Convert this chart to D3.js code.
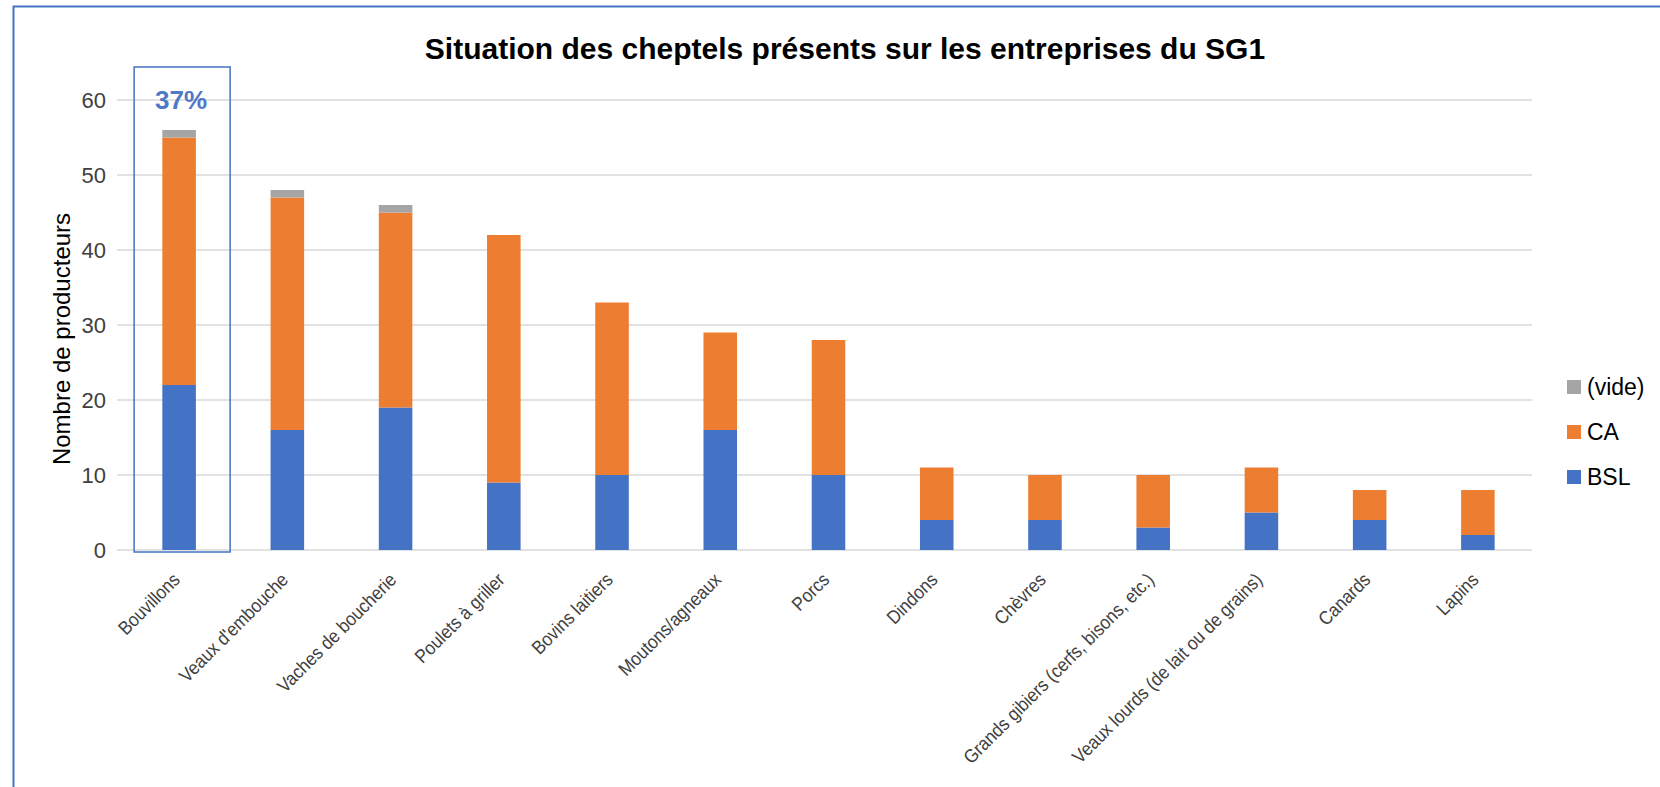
<!DOCTYPE html>
<html>
<head>
<meta charset="utf-8">
<script src="https://cdn.jsdelivr.net/npm/d3@7"></script>
<style>
  body { margin: 0; background: #fff; }
  svg text { font-family: "Liberation Sans", Arial, sans-serif; }
</style>
</head>
<body>
<div id="chart"></div>
<script>
// stacked bars: cheptels par entreprise (SG1)

const categories = ['Bouvillons', "Veaux d'embouche", 'Vaches de boucherie', 'Poulets à griller',
    'Bovins laitiers', 'Moutons/agneaux', 'Porcs', 'Dindons', 'Chèvres',
    'Grands gibiers (cerfs, bisons, etc.)', 'Veaux lourds (de lait ou de grains)', 'Canards', 'Lapins'];
const bsl  = [22, 16, 19, 9, 10, 16, 10, 4, 4, 3, 5, 4, 2];
const ca   = [33, 31, 26, 33, 23, 13, 18, 7, 6, 7, 6, 4, 6];
const vide = [1, 1, 1, 0, 0, 0, 0, 0, 0, 0, 0, 0, 0];
const seriesNames = ['BSL', 'CA', '(vide)'];
const yTicks = [0, 10, 20, 30, 40, 50, 60];
const highlightLabel = '37%';

const colors = {'BSL': '#4472C4', 'CA': '#ED7D31', '(vide)': '#A5A5A5'};

const width = 1660, height = 787;
const margin = {top: 100, left: 125, right: 128, bottom: 237};
const plotW = width - margin.left - margin.right;
const plotH = height - margin.top - margin.bottom;

const svg = d3.select('#chart').append('svg')
    .attr('width', width)
    .attr('height', height);

// outer frame (only top and left edges show)
svg.append('path')
    .attr('d', 'M13.5,800 L13.5,6.5 L1670,6.5')
    .attr('fill', 'none')
    .attr('stroke', '#4472C4')
    .attr('stroke-width', 2);

const g = svg.append('g')
    .attr('transform', `translate(${margin.left}, ${margin.top})`);

const rows = categories.map((c, i) => ({cat: c, 'BSL': bsl[i], 'CA': ca[i], '(vide)': vide[i]}));
const stacked = d3.stack().keys(seriesNames)(rows);

const x = d3.scaleBand()
    .domain(categories)
    .range([0, plotW])
    .paddingInner(0.69)
    .paddingOuter(0.345);

const y = d3.scaleLinear()
    .domain([0, 60])
    .range([plotH, 0]);

// gridlines
g.append('g')
    .selectAll('line')
    .data(yTicks)
    .enter()
    .append('line')
    .attr('x1', -8)
    .attr('x2', plotW)
    .attr('y1', d => y(d))
    .attr('y2', d => y(d))
    .attr('stroke', '#D9D9D9')
    .attr('stroke-width', 1.5);

// y axis labels
const yAxis = g.append('g')
    .call(d3.axisLeft(y).tickValues(yTicks).tickSize(0).tickPadding(19));
yAxis.select('.domain').remove();
yAxis.selectAll('text')
    .style('font-size', '22px')
    .attr('fill', '#404040');

// bars
g.selectAll('.layer')
    .data(stacked)
    .enter()
    .append('g')
    .attr('class', 'layer')
    .attr('fill', d => colors[d.key])
    .selectAll('rect')
    .data(d => d.map(v => ({v: v, cat: v.data.cat})))
    .enter()
    .append('rect')
    .attr('x', d => x(d.cat))
    .attr('width', x.bandwidth())
    .attr('y', d => y(d.v[1]))
    .attr('height', d => y(d.v[0]) - y(d.v[1]));

// x axis labels, rotated
const xAxis = g.append('g')
    .attr('transform', `translate(0, ${plotH})`)
    .call(d3.axisBottom(x).tickSize(0).tickPadding(0));
xAxis.select('.domain').remove();
xAxis.selectAll('text')
    .style('font-size', '19px')
    .attr('fill', '#404040')
    .attr('text-anchor', 'end')
    .attr('dy', 0)
    .attr('transform', 'translate(2, 31) rotate(-45) scale(0.9, 1)');

// highlight box around first bar
const hb = x(categories[0]) + x.bandwidth() / 2;
g.append('rect')
    .attr('x', hb - 45)
    .attr('y', y(60) - 33)
    .attr('width', 96)
    .attr('height', plotH - y(60) + 35)
    .attr('fill', 'none')
    .attr('stroke', '#4472C4')
    .attr('stroke-width', 1.5);

g.append('text')
    .attr('x', hb + 2)
    .attr('y', y(60) + 9)
    .attr('text-anchor', 'middle')
    .style('font-size', '26px')
    .style('font-weight', 700)
    .attr('fill', '#4F78C6')
    .text(highlightLabel);

// title
svg.append('text')
    .attr('x', 845)
    .attr('y', 59)
    .attr('text-anchor', 'middle')
    .style('font-size', '30px')
    .style('font-weight', 700)
    .attr('fill', '#000')
    .text('Situation des cheptels présents sur les entreprises du SG1');

// y title
svg.append('text')
    .attr('transform', 'translate(70, 339) rotate(-90)')
    .attr('text-anchor', 'middle')
    .style('font-size', '24px')
    .attr('fill', '#000')
    .text('Nombre de producteurs');

// legend
const legend = svg.append('g')
    .selectAll('g')
    .data(['(vide)', 'CA', 'BSL'])
    .enter()
    .append('g')
    .attr('transform', (d, i) => `translate(1567, ${380 + i * 45})`);

legend.append('rect')
    .attr('width', 14)
    .attr('height', 14)
    .attr('fill', d => colors[d]);

legend.append('text')
    .attr('x', 20)
    .attr('y', 15)
    .style('font-size', '23px')
    .attr('fill', '#000')
    .text(d => d);
</script>
</body>
</html>
